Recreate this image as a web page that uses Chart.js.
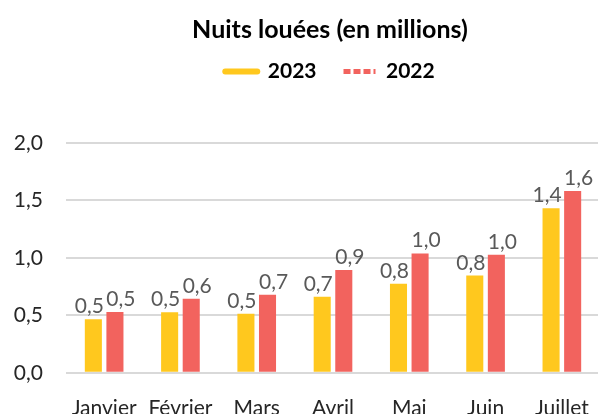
<!DOCTYPE html>
<html>
<head>
<meta charset="utf-8">
<script src="https://cdn.jsdelivr.net/npm/chart.js@4"></script>
<style>
  html, body { margin: 0; padding: 0; overflow: hidden; background: #fff; }
  #wrap { width: 598px; height: 414px; overflow: hidden; }
</style>
</head>
<body>
<div id="wrap">
  <canvas id="nuits-chart" width="660" height="444"></canvas>
</div>
<script>
// Data
const months = ['Janvier', 'Février', 'Mars', 'Avril', 'Mai', 'Juin', 'Juillet'];
const nuits2023 = [0.465, 0.528, 0.514, 0.661, 0.774, 0.846, 1.432];
const nuits2022 = [0.53, 0.644, 0.679, 0.895, 1.039, 1.028, 1.582];
const yTicks = [0, 0.5, 1, 1.5, 2];

const YELLOW = '#FFC81E';
const RED = '#F2635E';

Chart.defaults.font.family = 'Lato';

// french decimal comma
function fmt(v) {
  return v.toFixed(1).replace('.', ',');
}

// value labels above bars (no datalabels plugin offline)
const labelShift = [-4, 6];
const valueLabels = {
  id: 'valueLabels',
  afterDatasetsDraw(chart) {
    const ctx = chart.ctx;
    ctx.save();
    ctx.font = '21px Lato';
    ctx.fillStyle = '#595959';
    ctx.textAlign = 'center';
    ctx.textBaseline = 'alphabetic';
    chart.data.datasets.forEach((ds, i) => {
      chart.getDatasetMeta(i).data.forEach((bar, j) => {
        ctx.fillText(fmt(ds.data[j]), bar.x + labelShift[i], bar.y - 6);
      });
    });
    ctx.restore();
  }
};

// extra room under the legend
const legendMargin = {
  id: 'legendMargin',
  beforeInit(chart) {
    const fit = chart.legend.fit;
    chart.legend.fit = function () {
      fit.bind(chart.legend)();
      this.height += 51;
    };
  }
};

const dataNuits = {
  labels: months,
  datasets: [
    {
      label: '2023',
      data: nuits2023,
      backgroundColor: YELLOW,
      borderColor: YELLOW,
      borderWidth: 0,
    },
    {
      label: '2022',
      data: nuits2022,
      backgroundColor: RED,
      borderColor: RED,
      borderWidth: 0,
    },
  ]
};

const optionsNuits = {
  responsive: false,
  animation: false,
  categoryPercentage: 0.566,
  barPercentage: 0.79,
  layout: {
    padding: 0
  },
  scales: {
    x: {
      grid: { display: false, drawTicks: false },
      border: { display: false },
      ticks: {
        padding: 23,
        color: '#262626',
        font: { size: 21 },
        maxRotation: 0,
      }
    },
    y: {
      min: 0,
      max: 2,
      afterBuildTicks: (axis) => {
        axis.ticks = yTicks.map(v => ({ value: v }));
      },
      afterFit: (axis) => { axis.width = 66; },
      grid: {
        color: '#d9d9d9',
        lineWidth: 2,
        drawTicks: false,
      },
      border: { display: false },
      ticks: {
        padding: 23,
        color: '#262626',
        font: { size: 21 },
        callback: (v) => fmt(v),
      }
    },
    // spacer so the plot runs to the right edge of the view
    spacer: {
      position: 'right',
      display: true,
      grid: { display: false, drawTicks: false },
      border: { display: false },
      ticks: { display: false },
      afterFit: (axis) => { axis.width = 60; },
    }
  },
  plugins: {
    title: {
      display: true,
      text: 'Nuits louées (en millions)',
      color: '#000',
      font: { size: 25, weight: 'bold', lineHeight: 1.0 },
      padding: { top: 17, bottom: -8 },
    },
    legend: {
      labels: {
        usePointStyle: true,
        pointStyleWidth: 32,
        padding: 27,
        color: '#000',
        font: { size: 21, weight: 'bold' },
        generateLabels: () => [
          {
            text: '2023',
            fillStyle: YELLOW,
            strokeStyle: YELLOW,
            lineWidth: 6,
            lineCap: 'round',
            pointStyle: 'line',
            datasetIndex: 0,
          },
          {
            text: '2022',
            fillStyle: RED,
            strokeStyle: RED,
            lineWidth: 5,
            lineCap: 'butt',
            lineDash: [7, 3],
            pointStyle: 'line',
            datasetIndex: 1,
          },
        ],
      },
    },
    tooltip: { enabled: false },
  },
};

const nuitsChart = new Chart(
  document.getElementById('nuits-chart'), {
  type: 'bar',
  data: dataNuits,
  options: optionsNuits,
  plugins: [valueLabels, legendMargin]
});
</script>
</body>
</html>
